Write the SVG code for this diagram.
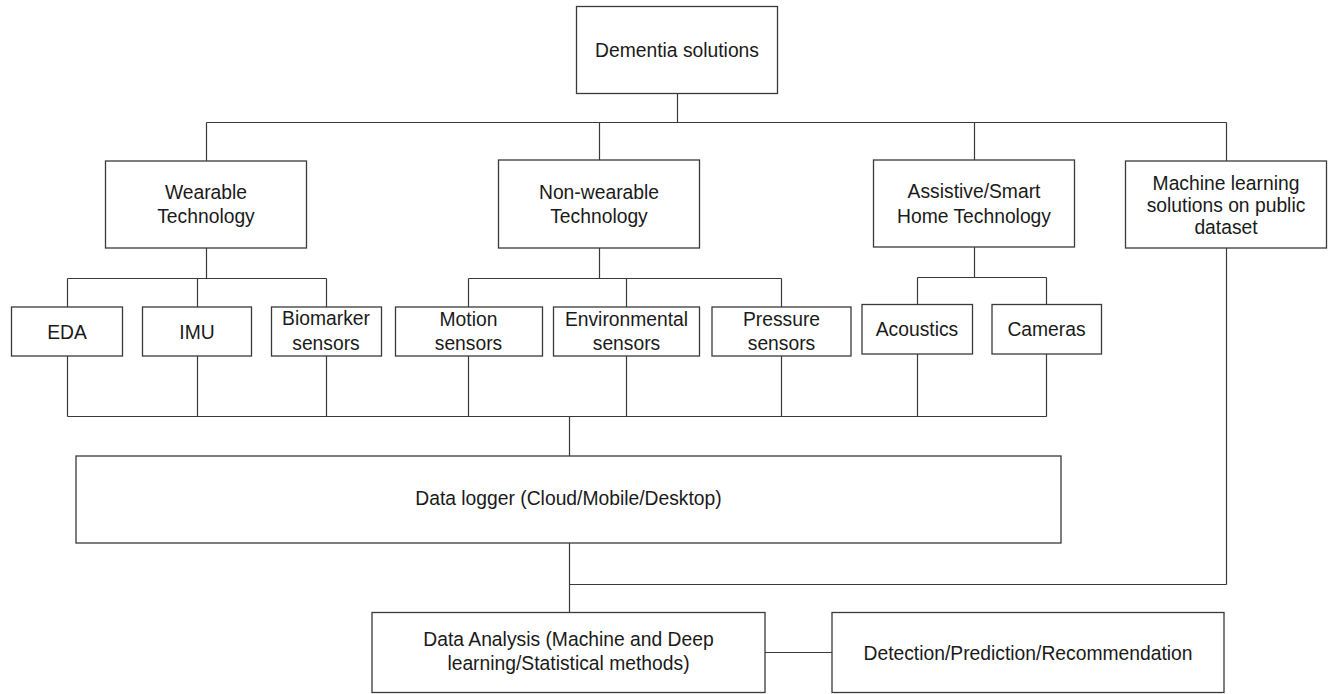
<svg xmlns="http://www.w3.org/2000/svg" width="1333" height="694" viewBox="0 0 1333 694">
<style>
.box{fill:#fff;stroke:#3a3a3a;stroke-width:1.3}
.ln{fill:none;stroke:#3a3a3a;stroke-width:1.2}
text{font-family:"Liberation Sans",Arial,sans-serif;font-size:19.3px;fill:#1a1a1a;text-anchor:middle}
</style>
<rect width="1333" height="694" fill="#fff"/>
<g id="connectors">
<path class="ln" d="M677.5 93V122.5M206.5 122.5H1226.5M206.5 122.5V161M599.5 122.5V160M974.5 122.5V160M1226.5 122.5V161"/>
<path class="ln" d="M206.5 248V278.5M67.5 278.5H326.5M67.5 278.5V307M197.5 278.5V307M326.5 278.5V307"/>
<path class="ln" d="M599.5 248V278.5M468.5 278.5H781.5M468.5 278.5V307M626.5 278.5V307M781.5 278.5V307"/>
<path class="ln" d="M974.5 247V277.5M917.5 277.5H1046.5M917.5 277.5V304M1046.5 277.5V304"/>
<path class="ln" d="M67.5 356V416.5M197.5 356V416.5M326.5 356V416.5M468.5 356V416.5M626.5 356V416.5M781.5 356V416.5M917.5 354V416.5M1046.5 354V416.5M67.5 416.5H1046.5"/>
<path class="ln" d="M569.5 416.5V456"/>
<path class="ln" d="M569.5 543V612M569.5 584.5H1226.5M1226.5 248V584.5"/>
<path class="ln" d="M765 652.5H832"/>
</g>
<g id="n-dementia"><rect class="box" x="576.5" y="6.5" width="201" height="87"/><text x="677" y="57">Dementia solutions</text></g>
<g id="n-wearable"><rect class="box" x="105.5" y="161" width="201" height="87"/><text x="206" y="199">Wearable</text><text x="206" y="223">Technology</text></g>
<g id="n-nonwearable"><rect class="box" x="498.5" y="160" width="201" height="88"/><text x="599" y="199">Non-wearable</text><text x="599" y="223">Technology</text></g>
<g id="n-assistive"><rect class="box" x="873.5" y="160" width="201" height="87"/><text x="974" y="198">Assistive/Smart</text><text x="974" y="222.5">Home Technology</text></g>
<g id="n-ml"><rect class="box" x="1125.5" y="161" width="201" height="87"/><text x="1226" y="190">Machine learning</text><text x="1226" y="212">solutions on public</text><text x="1226" y="234">dataset</text></g>
<g id="n-eda"><rect class="box" x="11.5" y="307" width="111" height="49"/><text x="67" y="339">EDA</text></g>
<g id="n-imu"><rect class="box" x="142.5" y="307" width="109" height="49"/><text x="197" y="339">IMU</text></g>
<g id="n-biomarker"><rect class="box" x="271.5" y="307" width="110" height="49"/><text x="326" y="325">Biomarker</text><text x="326" y="349.5">sensors</text></g>
<g id="n-motion"><rect class="box" x="395.5" y="307" width="147" height="49"/><text x="468.5" y="326">Motion</text><text x="468.5" y="350">sensors</text></g>
<g id="n-environmental"><rect class="box" x="553.5" y="307" width="146" height="49"/><text x="626.5" y="326">Environmental</text><text x="626.5" y="350">sensors</text></g>
<g id="n-pressure"><rect class="box" x="712" y="307" width="139" height="49"/><text x="781.5" y="326">Pressure</text><text x="781.5" y="350">sensors</text></g>
<g id="n-acoustics"><rect class="box" x="862" y="304.5" width="110.5" height="49.5"/><text x="917" y="336">Acoustics</text></g>
<g id="n-cameras"><rect class="box" x="992" y="304.5" width="109.5" height="49.5"/><text x="1046.5" y="336">Cameras</text></g>
<g id="n-datalogger"><rect class="box" x="76" y="456" width="985" height="87"/><text x="568.5" y="505">Data logger (Cloud/Mobile/Desktop)</text></g>
<g id="n-analysis"><rect class="box" x="372" y="612.5" width="393" height="80"/><text x="568.5" y="646">Data Analysis (Machine and Deep</text><text x="568.5" y="669.5">learning/Statistical methods)</text></g>
<g id="n-detection"><rect class="box" x="832" y="612.5" width="392" height="80"/><text x="1028" y="660">Detection/Prediction/Recommendation</text></g>
</svg>
